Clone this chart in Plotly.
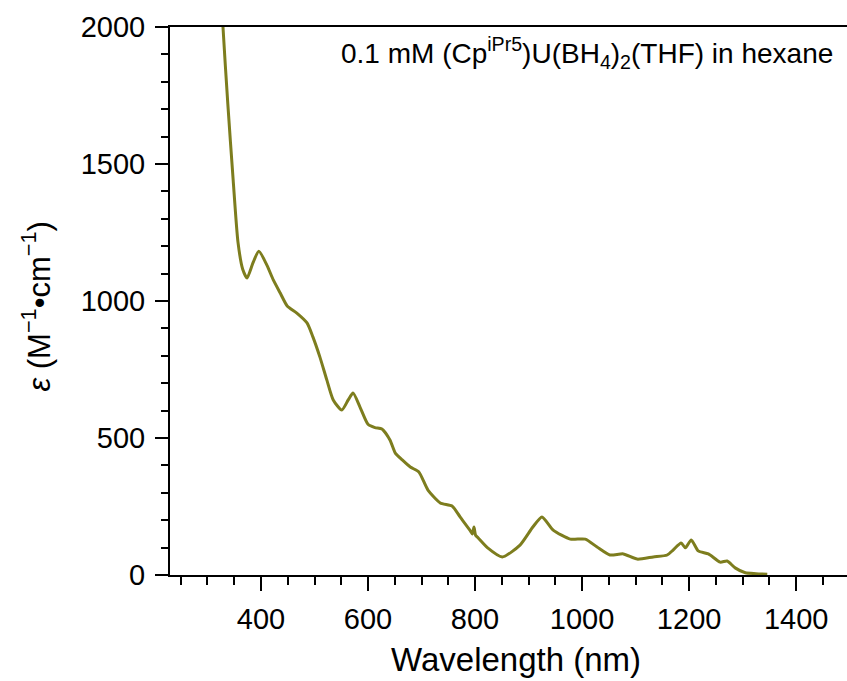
import plotly.graph_objects as go

wavelength_nm = [322, 329, 338, 348, 357, 366, 374, 385, 396, 411, 423, 436, 449, 467, 486,
                 497, 510, 523, 535, 551, 563, 572, 585, 600, 613, 626, 641, 651, 664, 679, 695,
                 712, 735, 757, 772, 791, 795, 798, 801, 806, 823, 851, 884, 908, 925, 946, 978,
                 1006, 1028, 1052, 1077, 1103, 1133, 1159, 1170, 1185, 1193, 1204, 1217, 1236,
                 1258, 1271, 1286, 1305, 1325, 1346]
epsilon = [2300, 2000, 1720, 1442, 1215, 1115, 1084, 1139, 1182, 1131, 1077, 1029, 982, 956, 920,
           869, 796, 712, 639, 602, 639, 664, 613, 550, 538, 533, 493, 445, 420, 394, 376,
           310, 263, 252, 212, 162, 150, 175, 145, 135, 100, 66, 109, 175, 212, 164, 131,
           131, 102, 73, 77, 58, 66, 73, 91, 117, 99, 128, 88, 77,
           47, 51, 26, 8, 5, 3]

x_ticks = [400, 600, 800, 1000, 1200, 1400]
y_ticks = [0, 500, 1000, 1500, 2000]

FONT = "Arial, Liberation Sans, sans-serif"
LINE_COLOR = "#7d7d1e"

fig = go.Figure()
fig.add_trace(go.Scatter(x=wavelength_nm, y=epsilon, mode="lines",
                         line=dict(color=LINE_COLOR, width=3, shape="spline", smoothing=0.6),
                         showlegend=False, hoverinfo="x+y"))

fig.update_layout(
    width=847, height=681,
    margin=dict(l=170, r=0, t=27, b=106),
    plot_bgcolor="white", paper_bgcolor="white",
    font=dict(family=FONT, color="black", size=29),
    xaxis=dict(range=[230, 1495], tickvals=x_ticks, ticks="outside", ticklen=14, tickwidth=2,
               tickcolor="black", showline=True, linecolor="black", linewidth=2, mirror=True,
               showgrid=False, zeroline=False, tickfont=dict(size=29),
               minor=dict(dtick=50, tick0=0, ticks="outside", ticklen=8, tickwidth=2, tickcolor="black"),
               ticklabelstandoff=3),
    yaxis=dict(range=[0, 2000], tickvals=y_ticks, ticks="outside", ticklen=13, tickwidth=2,
               tickcolor="black", showline=True, linecolor="black", linewidth=2,
               showgrid=False, zeroline=False, tickfont=dict(size=29),
               minor=dict(dtick=100, tick0=0, ticks="outside", ticklen=7, tickwidth=2, tickcolor="black"),
               ticklabelstandoff=4),
)

fig.add_annotation(text="Wavelength (nm)", xref="paper", yref="paper", x=0.511, y=-0.155,
                   xanchor="center", yanchor="middle", showarrow=False, font=dict(size=33))
fig.add_annotation(text="<i>ε</i> (M<sup>−1</sup>•cm<sup>−1</sup>)", xref="paper", yref="paper",
                   x=-0.1965, y=0.49, xanchor="center", yanchor="middle", textangle=-90,
                   showarrow=False, font=dict(size=31))
fig.add_annotation(text="0.1 mM (Cp<sup>iPr5</sup>)U(BH<sub>4</sub>)<sub>2</sub>(THF) in hexane",
                   xref="paper", yref="paper", x=0.982, y=0.952, xanchor="right", yanchor="middle",
                   showarrow=False, font=dict(size=28))

fig.write_html("out.html")
